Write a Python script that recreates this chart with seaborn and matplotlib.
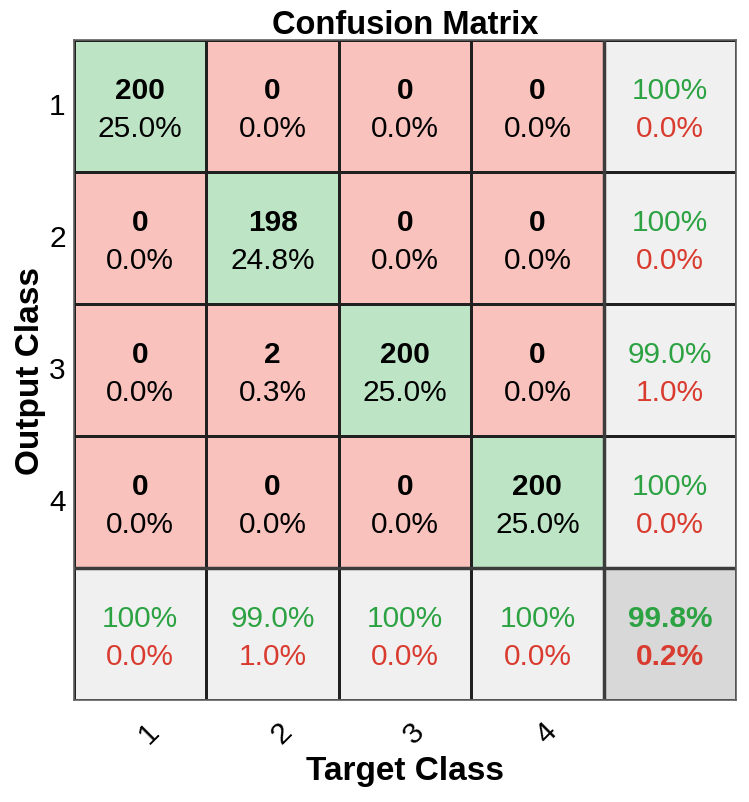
import numpy as np
import matplotlib
matplotlib.use("Agg")
import matplotlib.pyplot as plt
import matplotlib.transforms as mtransforms
import seaborn as sns
from matplotlib.colors import ListedColormap

sns.set_style("white")
plt.rcParams['font.family'] = ['Liberation Sans', 'DejaVu Sans']
plt.rcParams['text.color'] = 'black'
plt.rcParams['axes.labelcolor'] = 'black'
plt.rcParams['xtick.color'] = 'black'
plt.rcParams['ytick.color'] = 'black'

# Confusion matrix data (rows = output class, cols = target class)
classes = ["1", "2", "3", "4"]
counts = [[200, 0, 0, 0],
          [0, 198, 0, 0],
          [0, 2, 200, 0],
          [0, 0, 0, 200]]
cell_pct = [["25.0%", "0.0%", "0.0%", "0.0%"],
            ["0.0%", "24.8%", "0.0%", "0.0%"],
            ["0.0%", "0.3%", "25.0%", "0.0%"],
            ["0.0%", "0.0%", "0.0%", "25.0%"]]
row_correct = ["100%", "100%", "99.0%", "100%"]
row_wrong = ["0.0%", "0.0%", "1.0%", "0.0%"]
col_correct = ["100%", "99.0%", "100%", "100%"]
col_wrong = ["0.0%", "1.0%", "0.0%", "0.0%"]
total_correct = "99.8%"
total_wrong = "0.2%"

n = len(classes)

# colour codes: 0 diagonal, 1 off-diagonal, 2 summary, 3 overall
codes = np.full((n + 1, n + 1), 2)
for i in range(n):
    for j in range(n):
        codes[i, j] = 0 if i == j else 1
codes[n, n] = 3

cmap = ListedColormap(["#bde5c5", "#f9c2bd", "#f0f0f0", "#d8d8d8"])
green_txt = "#2ca243"
red_txt = "#d93b2f"

fig, ax = plt.subplots(figsize=(7.49, 8.03), dpi=100)
fig.subplots_adjust(left=0.0988, right=0.9826, top=0.9489, bottom=0.127)

sns.heatmap(codes, cmap=cmap, vmin=-0.5, vmax=3.5, cbar=False,
            linewidths=0.8, linecolor="#202020", ax=ax)

ax.axhline(n, color="#3c3c3c", lw=2.5)
ax.axvline(n, color="#3c3c3c", lw=2.5)
for sp in ax.spines.values():
    sp.set_visible(True)
    sp.set_color("#606060")
    sp.set_linewidth(1.2)

off = 0.143
dy = 0.02
fs = 21.5
for i in range(n):
    for j in range(n):
        ax.text(j + 0.5, i + 0.5 + dy - off, str(counts[i][j]), ha="center", va="center",
                fontsize=fs, fontweight="bold", color="black")
        ax.text(j + 0.5, i + 0.5 + dy + off, cell_pct[i][j], ha="center", va="center",
                fontsize=fs, color="black")
    # row summary
    ax.text(n + 0.5, i + 0.5 + dy - off, row_correct[i], ha="center", va="center",
            fontsize=fs, color=green_txt)
    ax.text(n + 0.5, i + 0.5 + dy + off, row_wrong[i], ha="center", va="center",
            fontsize=fs, color=red_txt)
    # column summary
    ax.text(i + 0.5, n + 0.5 + dy - off, col_correct[i], ha="center", va="center",
            fontsize=fs, color=green_txt)
    ax.text(i + 0.5, n + 0.5 + dy + off, col_wrong[i], ha="center", va="center",
            fontsize=fs, color=red_txt)

ax.text(n + 0.5, n + 0.5 + dy - off, total_correct, ha="center", va="center",
        fontsize=fs, fontweight="bold", color=green_txt)
ax.text(n + 0.5, n + 0.5 + dy + off, total_wrong, ha="center", va="center",
        fontsize=fs, fontweight="bold", color=red_txt)

ax.set_xticks(np.arange(n) + 0.5)
ax.set_xticklabels(classes, rotation=45, ha="center", fontsize=fs)
ax.set_yticks(np.arange(n) + 0.5)
ax.set_yticklabels(classes, rotation=0, fontsize=fs)
ax.tick_params(axis="y", length=0, pad=6)
ax.tick_params(axis="x", length=0, pad=12)
shift = mtransforms.ScaledTranslation(0.09, 0, fig.dpi_scale_trans)
for lbl in ax.get_xticklabels():
    lbl.set_transform(lbl.get_transform() + shift)

ax.set_title("Confusion Matrix", fontsize=23.5, fontweight="bold", pad=5)
ax.set_xlabel("Target Class", fontsize=24, fontweight="bold")
ax.set_ylabel("Output Class", fontsize=24, fontweight="bold")
ax.xaxis.set_label_coords(0.5, -0.083)
ax.yaxis.set_label_coords(-0.043, 0.5)

plt.savefig("out.png", dpi=100)
